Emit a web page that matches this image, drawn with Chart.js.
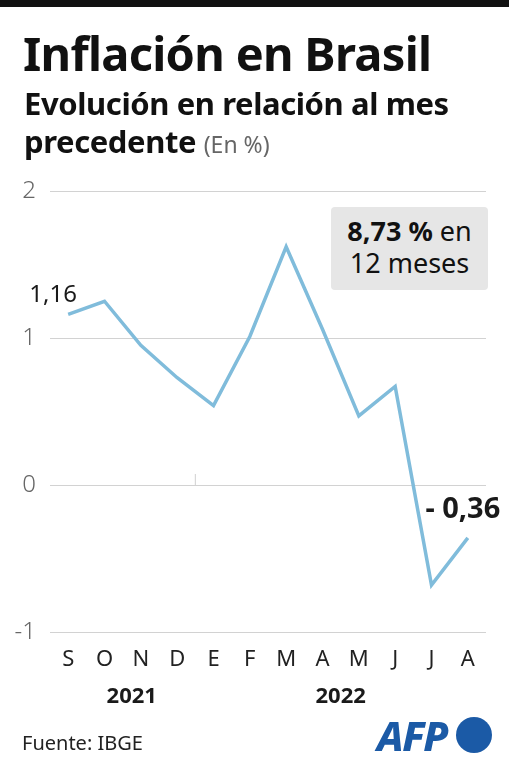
<!DOCTYPE html>
<html>
<head>
<meta charset="utf-8">
<script src="https://cdn.jsdelivr.net/npm/chart.js@4.4.1/dist/chart.umd.min.js"></script>
<style>
  html, body { margin: 0; padding: 0; background: #fff; }
  body { width: 509px; height: 768px; position: relative; overflow: hidden; font-family: 'Noto Sans', sans-serif; color: #111; }
  #topbar { position: absolute; left: 0; top: 0; width: 509px; height: 7px; background: #111; }
  #title { position: absolute; left: 23px; top: 23px; font-size: 47px; font-weight: 700; letter-spacing: -0.7px; line-height: 60px; }
  #subtitle { position: absolute; left: 24px; top: 84px; font-size: 31px; font-weight: 700; letter-spacing: -0.4px; line-height: 38px; }
  #subtitle .unit { font-weight: 400; font-size: 23px; color: #666; letter-spacing: 0; }
  #wrap { position: absolute; left: 0; top: 0; width: 509px; height: 768px; }
  #box { position: absolute; left: 331px; top: 207px; width: 157px; height: 83px; background: #e6e6e6; border-radius: 4px;
         text-align: center; font-size: 27px; line-height: 32px; padding-top: 8px; box-sizing: border-box; color: #111; }
  #box b { font-weight: 700; }
  #source { position: absolute; left: 22px; top: 729px; font-size: 20px; color: #222; }
  #logo { position: absolute; left: 377px; top: 712px; color: #1b5aa6; font-size: 41px; font-weight: 800; font-style: italic; letter-spacing: -1.5px; line-height: 46px; }
  #dot { position: absolute; left: 456px; top: 717px; width: 36px; height: 36px; border-radius: 50%; background: #1b5aa6; }
</style>
</head>
<body>
<div id="topbar"></div>
<div id="wrap"><canvas id="chart"></canvas></div>
<div id="title">Inflación en Brasil</div>
<div id="subtitle">Evolución en relación al mes<br>precedente <span class="unit">(En %)</span></div>
<div id="box"><b>8,73 %</b> en<br>12 meses</div>
<div id="source">Fuente: IBGE</div>
<div id="logo">AFP</div>
<div id="dot"></div>
<script>
const months = ['S', 'O', 'N', 'D', 'E', 'F', 'M', 'A', 'M', 'J', 'J', 'A'];
const values = [1.16, 1.25, 0.95, 0.73, 0.54, 1.01, 1.62, 1.06, 0.47, 0.67, -0.68, -0.36];
const yTicks = [-1, 0, 1, 2];
const years = ['2021', '2022'];
const firstLabel = '1,16';
const lastLabel = '- 0,36';

const extras = {
    id: 'extras',
    afterDatasetsDraw(chart) {
        const ctx = chart.ctx;
        const x = chart.scales.x, y = chart.scales.y;
        ctx.save();
        // small separator between the two years
        const sx = (x.getPixelForValue(3) + x.getPixelForValue(4)) / 2;
        ctx.strokeStyle = '#d0d0d0';
        ctx.lineWidth = 1;
        ctx.beginPath();
        ctx.moveTo(sx, y.getPixelForValue(0) - 11);
        ctx.lineTo(sx, y.getPixelForValue(0));
        ctx.stroke();

        // value labels at the ends
        const meta = chart.getDatasetMeta(0);
        const p0 = meta.data[0], pn = meta.data[meta.data.length - 1];
        ctx.fillStyle = '#1a1a1a';
        ctx.textAlign = 'center';
        ctx.textBaseline = 'alphabetic';
        ctx.font = '400 24px "Noto Sans"';
        ctx.fillText(firstLabel, p0.x - 15, p0.y - 12);
        ctx.font = '700 29px "Noto Sans"';
        ctx.fillText(lastLabel, pn.x - 5, pn.y - 20);

        // year labels under the months
        ctx.font = '700 22px "Noto Sans"';
        ctx.fillText(years[0], x.getPixelForValue(1.75), 703);
        ctx.fillText(years[1], x.getPixelForValue(7.5), 703);
        ctx.restore();
    }
};

new Chart(document.getElementById('chart'), {
    type: 'line',
    data: {
        labels: months,
        datasets: [{
            data: values,
            borderColor: '#80bcdb',
            borderWidth: 3.5,
            pointRadius: 0,
            tension: 0,
            borderJoinStyle: 'miter'
        }]
    },
    options: {
        responsive: true,
        maintainAspectRatio: false,
        animation: false,
        layout: { padding: { top: 191, right: 23, left: 0, bottom: 0 } },
        plugins: { legend: { display: false }, tooltip: { enabled: false } },
        scales: {
            x: {
                offset: true,
                grid: { display: false, drawTicks: false },
                border: { display: false },
                ticks: { color: '#222', padding: 15, font: { family: 'Noto Sans', size: 22 } },
                afterFit(s) { s.height = 136; }
            },
            y: {
                min: yTicks[0],
                max: yTicks[yTicks.length - 1],
                afterBuildTicks(s) { s.ticks = yTicks.map(v => ({ value: v })); },
                grid: { color: '#d2d2d2', lineWidth: 1, drawTicks: false },
                border: { display: false },
                ticks: { color: '#666', padding: 14, font: { family: 'Noto Sans', size: 24, weight: 300 } },
                afterFit(s) { s.width = 50; }
            }
        }
    },
    plugins: [extras]
});
</script>
</body>
</html>
